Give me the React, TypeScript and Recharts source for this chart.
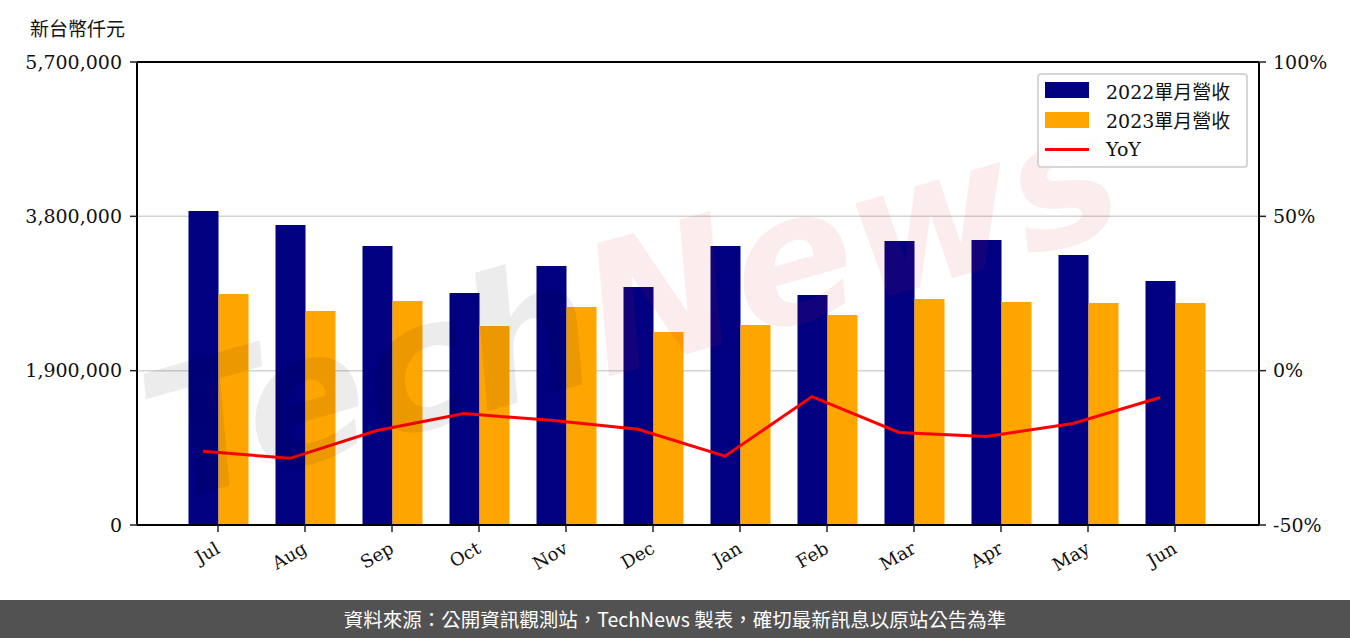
import React from "react";
import {
  ComposedChart,
  Bar,
  Line,
  XAxis,
  YAxis,
  CartesianGrid,
  ReferenceLine,
} from "recharts";

const months = ["Jul", "Aug", "Sep", "Oct", "Nov", "Dec", "Jan", "Feb", "Mar", "Apr", "May", "Jun"];
const rev2022 = [3866000, 3693000, 3435000, 2856000, 3189000, 2930000, 3435000, 2832000, 3497000, 3509000, 3324000, 3004000];
const rev2023 = [2844000, 2634000, 2758000, 2450000, 2684000, 2376000, 2462000, 2585000, 2782000, 2745000, 2733000, 2733000];
const yoy = [-26.1, -28.4, -19.4, -13.9, -16.1, -19.0, -27.7, -8.4, -20.0, -21.3, -17.1, -8.7];
const leftTicks = [0, 1900000, 3800000, 5700000];
const rightTicks = [-50, 0, 50, 100];

const data = months.map((m, i) => ({ month: m, a: rev2022[i], b: rev2023[i], yoy: yoy[i] }));

const SERIF = "'DejaVu Serif', 'Noto Sans CJK TC', serif";
const NAVY = "#000080";
const ORANGE = "#FFA500";

const XTick = (props: any) => {
  const { x, y, payload } = props;
  const ax = x + 3;
  const ay = y + 18;
  return (
    <text
      x={ax}
      y={ay}
      textAnchor="end"
      transform={`rotate(-30, ${ax}, ${ay})`}
      fontFamily={SERIF}
      fontSize={18}
      fill="#111"
    >
      {payload.value}
    </text>
  );
};

function LegendBox() {
  const rows = [
    { label: "2022單月營收", color: NAVY, kind: "rect" },
    { label: "2023單月營收", color: ORANGE, kind: "rect" },
    { label: "YoY", color: "#FF0000", kind: "line" },
  ];
  return (
    <div
      style={{
        position: "absolute",
        left: 1037,
        top: 73,
        width: 211,
        height: 95,
        border: "2px solid #d6d6d6",
        borderRadius: 4,
        background: "rgba(255,255,255,0.85)",
        boxSizing: "border-box",
      }}
    >
      {rows.map((r, i) => (
        <div key={r.label} style={{ position: "absolute", left: 6, top: 2 + i * 29.5, height: 26, display: "flex", alignItems: "center" }}>
          {r.kind === "rect" ? (
            <div style={{ width: 44, height: 16, background: r.color }} />
          ) : (
            <div style={{ width: 44, height: 3, background: r.color }} />
          )}
          <span style={{ marginLeft: 17, fontFamily: SERIF, fontSize: 19, color: "#111", whiteSpace: "nowrap" }}>{r.label}</span>
        </div>
      ))}
    </div>
  );
}

function Watermark() {
  return (
    <svg width={1350} height={600} style={{ position: "absolute", left: 0, top: 0, pointerEvents: "none" }}>
      <g transform="rotate(-16, 640, 300)">
        <text
          x={630}
          y={365}
          textAnchor="middle"
          fontFamily="'DejaVu Sans', sans-serif"
          fontStyle="italic"
          fontWeight={700}
          fontSize={180}
        >
          <tspan fill="rgba(0,0,0,0.075)">Tech</tspan>
          <tspan fill="rgba(210,40,60,0.085)">News</tspan>
        </text>
      </g>
    </svg>
  );
}

export default function App() {
  return (
    <div style={{ position: "absolute", left: 0, top: 0, width: 1350, height: 638, background: "#fff", overflow: "hidden" }}>
      <div
        style={{
          position: "absolute",
          left: 30,
          top: 14,
          fontFamily: "'Noto Sans CJK TC', sans-serif",
          fontSize: 19,
          color: "#111",
        }}
      >
        新台幣仟元
      </div>
      <ComposedChart
        width={1350}
        height={600}
        data={data}
        margin={{ top: 62, right: 0, bottom: 0, left: 0 }}
        barGap={0}
      >
        <CartesianGrid xAxisId="bar" yAxisId="left" vertical={false} stroke="#d3d3d3" strokeWidth={1.5} />
        <XAxis
          xAxisId="bar"
          dataKey="month"
          padding={{ left: 37.5, right: 40.5 }}
          height={75}
          tick={<XTick />}
          tickSize={7}
          tickMargin={2}
          tickLine={{ stroke: "#222", strokeWidth: 1.5 }}
          axisLine={{ stroke: "#000", strokeWidth: 2 }}
          interval={0}
        />
        <XAxis xAxisId="line" dataKey="month" padding={{ left: 22.5, right: 55.5 }} hide />
        <YAxis
          yAxisId="left"
          width={137}
          domain={[0, 5700000]}
          ticks={leftTicks}
          interval={0}
          tickFormatter={(v: number) => v.toLocaleString("en-US")}
          tick={{ fontFamily: SERIF, fontSize: 19, fill: "#111" }}
          tickSize={7}
          tickMargin={8}
          tickLine={{ stroke: "#222", strokeWidth: 1.5 }}
          axisLine={{ stroke: "#000", strokeWidth: 2 }}
        />
        <YAxis
          yAxisId="right"
          orientation="right"
          width={91}
          domain={[-50, 100]}
          ticks={rightTicks}
          interval={0}
          tickFormatter={(v: number) => `${v}%`}
          tick={{ fontFamily: SERIF, fontSize: 19, fill: "#111", textAnchor: "start" }}
          tickSize={7}
          tickMargin={7}
          tickLine={{ stroke: "#222", strokeWidth: 1.5 }}
          axisLine={{ stroke: "#000", strokeWidth: 2 }}
        />
        <ReferenceLine yAxisId="left" xAxisId="bar" y={5700000} stroke="#000" strokeWidth={2} />
        <Bar xAxisId="bar" yAxisId="left" dataKey="a" fill={NAVY} barSize={30} isAnimationActive={false} />
        <Bar xAxisId="bar" yAxisId="left" dataKey="b" fill={ORANGE} barSize={30} isAnimationActive={false} />
        <Line
          xAxisId="line"
          yAxisId="right"
          dataKey="yoy"
          type="linear"
          stroke="#FF0000"
          strokeWidth={3}
          dot={false}
          isAnimationActive={false}
        />
      </ComposedChart>
      <Watermark />
      <LegendBox />
      <div
        style={{
          position: "absolute",
          left: 0,
          top: 600,
          width: 1350,
          height: 38,
          background: "#525252",
          color: "#fff",
          fontFamily: "'Noto Sans CJK TC', sans-serif",
          fontSize: 19.5,
          lineHeight: "38px",
          textAlign: "center",
        }}
      >
        資料來源：公開資訊觀測站，TechNews 製表，確切最新訊息以原站公告為準
      </div>
    </div>
  );
}
